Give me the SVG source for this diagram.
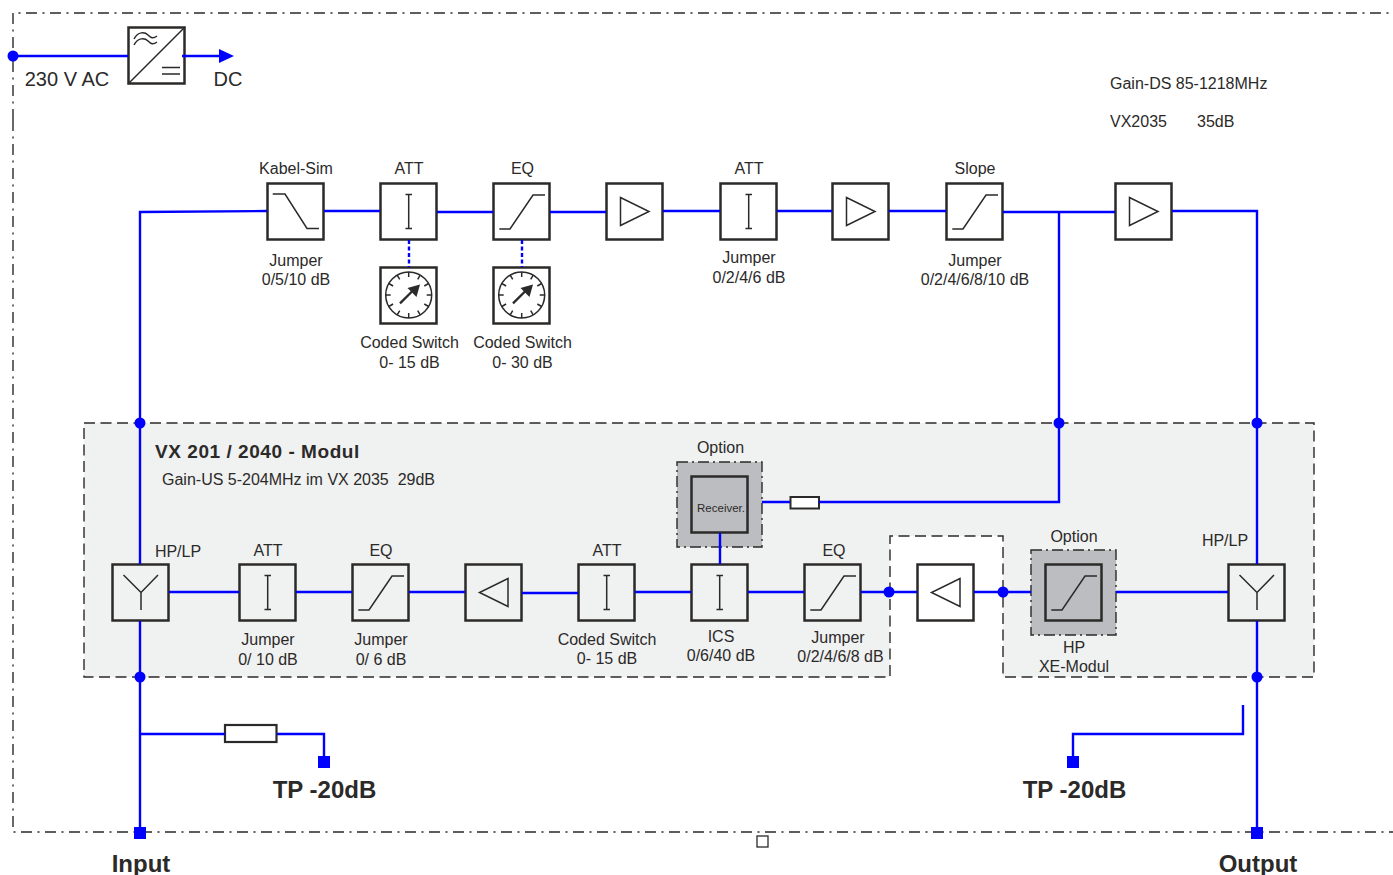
<svg xmlns="http://www.w3.org/2000/svg" width="1393" height="875" viewBox="0 0 1393 875">
<style>
text{font-family:"Liberation Sans",Arial,sans-serif;fill:#2b2a29;font-size:16px;text-anchor:middle;white-space:pre}
.b{font-weight:bold;font-size:24px}
.l{text-anchor:start}
.box{fill:none;stroke:#2b2a29;stroke-width:2.5}
.wbox{fill:#fff;stroke:#2b2a29;stroke-width:2.5}
.gbox{fill:#f0f1f1;stroke:#2b2a29;stroke-width:2.5}
.sym{fill:none;stroke:#2b2a29;stroke-width:1.5}
.w{fill:none;stroke:#0000ff;stroke-width:2.4}
.d{fill:#0000ff}
.dd{fill:none;stroke:#2b2a29;stroke-width:1.4;stroke-dasharray:11 5.5 2 5.5}
</style>
<defs>
<g id="att"><path class="sym" d="M28.700 11.500V45.500M25.500 11.500H32M25.500 45.500H32"/></g>
<g id="hi"><path class="sym" d="M6.300 46H17L40 12H52"/></g>
<g id="lo"><path class="sym" d="M5.700 11H18L40 45.500H52"/></g>
<g id="amp"><path class="sym" d="M14.500 14.500V42.500L43 28.500Z"/></g>
<g id="ampr"><path class="sym" d="M43 14.500V42.500L14.500 28.500Z"/></g>
<g id="split"><path class="sym" d="M11.500 11L29 28.500L46 11M29 28.500V46"/></g>
<g id="dial">
<circle class="sym" cx="28.700" cy="28" r="23"/>
<path class="sym" d="M28.700 5V10M28.700 46V51M5.700 28H10.700M46.700 28H51.700M17.200 8.100L19.700 12.400M37.700 43.600L40.200 47.900M8.800 16.500L13.100 19M44.300 37L48.600 39.500M8.800 39.500L13.100 37M44.300 19L48.600 16.500M17.200 47.900L19.700 43.600M37.700 12.400L40.200 8.100"/>
<path d="M20 36.300L32 24.500" fill="none" stroke="#2b2a29" stroke-width="2.400"/>
<path d="M40 17.500L36.500 30L27.500 21Z" fill="#2b2a29"/>
</g>
</defs>
<rect width="1393" height="875" fill="#fff"/>
<g id="frame">
<path class="dd" d="M13 120V13H1393"/>
<path class="dd" d="M13 120V832H1393"/>
<path d="M84 423H1314V677H1003V536H890V677H84Z" fill="#f0f1f1" stroke="#2b2a29" stroke-width="1.400" stroke-dasharray="11 5.500"/>
<rect x="757" y="836" width="11" height="11" fill="#fff" stroke="#2b2a29" stroke-width="1.300"/>
</g>
<g id="converter"><rect class="wbox" x="128.500" y="27.500" width="56" height="56"/><path class="sym" d="M128 84L185 27M162 67.500H180M162 74H180"/><path class="sym" d="M134 39C138 31 145 32 148 35C151 38 153 39 157 36M134 45C138 37 145 38 148 41C151 44 153 45 157 42"/><text x="67" y="86" style="font-size:20px">230 V AC</text><text x="228" y="86" style="font-size:20px">DC</text></g>
<g id="kabel-sim"><rect class="wbox" x="267.500" y="183.500" width="56" height="56"/><use href="#lo" x="267" y="183"/><text x="296" y="174">Kabel-Sim</text><text x="296" y="266">Jumper</text><text x="296" y="285">0/5/10 dB</text></g>
<g id="att1"><rect class="wbox" x="380.500" y="183.500" width="56" height="56"/><use href="#att" x="380" y="183"/><text x="409" y="174">ATT</text></g>
<g id="eq1"><rect class="wbox" x="493.500" y="183.500" width="56" height="56"/><use href="#hi" x="493" y="183"/><text x="522.500" y="174">EQ</text></g>
<g id="amp1"><rect class="wbox" x="606.500" y="183.500" width="56" height="56"/><use href="#amp" x="606" y="183"/></g>
<g id="att2"><rect class="wbox" x="720.500" y="183.500" width="56" height="56"/><use href="#att" x="720" y="183"/><text x="749" y="174">ATT</text><text x="749" y="263">Jumper</text><text x="749" y="283">0/2/4/6 dB</text></g>
<g id="amp2"><rect class="wbox" x="832.500" y="183.500" width="56" height="56"/><use href="#amp" x="832" y="183"/></g>
<g id="slope"><rect class="wbox" x="946.500" y="183.500" width="56" height="56"/><use href="#hi" x="946" y="183"/><text x="975" y="174">Slope</text><text x="975" y="266">Jumper</text><text x="975" y="285">0/2/4/6/8/10 dB</text></g>
<g id="amp3"><rect class="wbox" x="1115.500" y="183.500" width="56" height="56"/><use href="#amp" x="1115" y="183"/></g>
<g id="switch1"><rect class="wbox" x="380.500" y="267.500" width="56" height="56"/><use href="#dial" x="380" y="267"/><text x="409.500" y="348">Coded Switch</text><text x="409.500" y="368">0- 15 dB</text></g>
<g id="switch2"><rect class="wbox" x="493.500" y="267.500" width="56" height="56"/><use href="#dial" x="493" y="267"/><text x="522.500" y="348">Coded Switch</text><text x="522.500" y="368">0- 30 dB</text></g>
<g id="info"><text class="l" x="1110" y="89">Gain-DS 85-1218MHz</text><text class="l" x="1110" y="127">VX2035</text><text class="l" x="1197" y="127">35dB</text></g>
<g id="module-label"><text class="l" x="155" y="458" style="font-size:19px;font-weight:bold;letter-spacing:.55px">VX 201 / 2040 - Modul</text><text class="l" x="162" y="485">Gain-US 5-204MHz im VX 2035  29dB</text></g>
<g id="receiver"><rect x="677" y="462" width="85" height="85" fill="#bcbdc0" stroke="#2b2a29" stroke-width="1.400" stroke-dasharray="11 4 2 4"/><rect class="box" x="691.500" y="476.500" width="56" height="56"/><text x="721" y="512" style="font-size:11.500px">Receiver.</text><text x="720.500" y="453">Option</text></g>
<g id="res1"><rect x="790.500" y="497" width="28.500" height="11.500" fill="#fff" stroke="#2b2a29" stroke-width="2"/></g>
<g id="split-in"><rect class="gbox" x="112.500" y="564.500" width="56" height="56"/><use href="#split" x="112" y="564"/><text x="178" y="557">HP/LP</text></g>
<g id="att3"><rect class="gbox" x="239.500" y="564.500" width="56" height="56"/><use href="#att" x="239" y="564"/><text x="268" y="556">ATT</text><text x="268" y="645">Jumper</text><text x="268" y="665">0/ 10 dB</text></g>
<g id="eq2"><rect class="gbox" x="352.500" y="564.500" width="56" height="56"/><use href="#hi" x="352" y="564"/><text x="381" y="556">EQ</text><text x="381" y="645">Jumper</text><text x="381" y="665">0/ 6 dB</text></g>
<g id="amp4"><rect class="gbox" x="465.500" y="564.500" width="56" height="56"/><use href="#ampr" x="465" y="564"/></g>
<g id="att4"><rect class="gbox" x="578.500" y="564.500" width="56" height="56"/><use href="#att" x="578" y="564"/><text x="607" y="556">ATT</text><text x="607" y="645">Coded Switch</text><text x="607" y="664">0- 15 dB</text></g>
<g id="ics"><rect class="gbox" x="691.500" y="564.500" width="56" height="56"/><use href="#att" x="691" y="564"/><text x="721" y="642">ICS</text><text x="721" y="661">0/6/40 dB</text></g>
<g id="eq3"><rect class="gbox" x="804.500" y="564.500" width="56" height="56"/><use href="#hi" x="804" y="564"/><text x="834" y="556">EQ</text><text x="838" y="643">Jumper</text><text x="840.500" y="662">0/2/4/6/8 dB</text></g>
<g id="amp5"><rect class="wbox" x="917.500" y="564.500" width="56" height="56"/><use href="#ampr" x="917" y="564"/></g>
<g id="hp"><rect x="1031" y="550" width="85" height="85" fill="#bcbdc0" stroke="#2b2a29" stroke-width="1.400" stroke-dasharray="11 4 2 4"/><rect class="box" x="1045.500" y="564.500" width="56" height="56"/><use href="#hi" x="1045" y="564"/><text x="1074" y="542">Option</text><text x="1074" y="653">HP</text><text x="1074" y="672">XE-Modul</text></g>
<g id="split-out"><rect class="gbox" x="1228.500" y="564.500" width="56" height="56"/><use href="#split" x="1228" y="564"/><text x="1225" y="546">HP/LP</text></g>
<g id="res2"><rect class="wbox" x="225" y="725" width="51.500" height="17" style="stroke-width:2.200"/></g>
<g id="tp1"><text class="b" x="324.500" y="798">TP -20dB</text></g>
<g id="tp2"><text class="b" x="1074.500" y="798">TP -20dB</text></g>
<g id="input"><text class="b" x="141" y="872">Input</text></g>
<g id="output"><text class="b" x="1258" y="872">Output</text></g>
<g id="connectors">
<path class="w" d="M13 56H128M182 56H222"/>
<path class="d" d="M219 49L234 56L219 63Z"/>
<path class="w" d="M140 564V212L267 211M324 211H380M437 212H493M550 212H606M663 211H720M777 211H832M889 211H946M1003 212H1115M1172 211H1257V564"/>
<path class="w" d="M1059 212V502H819M790 502H762M169 592H239M296 592H352M409 592H465M522 593H578M635 592H691M748 592H804M861 592H917M974 592H1031M1116 592H1228"/>
<path class="w" d="M720 533V564M140 621V832M1257 621V832M140 734H225M277 734H324V762M1243 705V734H1073V762"/>
<path d="M409 240V267M522 240V267" fill="none" stroke="#0000ff" stroke-width="2.400" stroke-dasharray="4 2.500"/>
<g class="d">
<circle cx="13" cy="56" r="5.500"/><circle cx="140" cy="423" r="5.500"/><circle cx="1059" cy="423" r="5.500"/><circle cx="1257" cy="423" r="5.500"/>
<circle cx="140" cy="677" r="5.500"/><circle cx="1257" cy="677" r="5.500"/><circle cx="889" cy="592" r="5.500"/><circle cx="1003" cy="592" r="5.500"/>
<rect x="134" y="827" width="12" height="12"/><rect x="1251" y="827" width="12" height="12"/><rect x="318" y="756" width="12" height="12"/><rect x="1067" y="756" width="12" height="12"/>
</g>
</g>
</svg>
